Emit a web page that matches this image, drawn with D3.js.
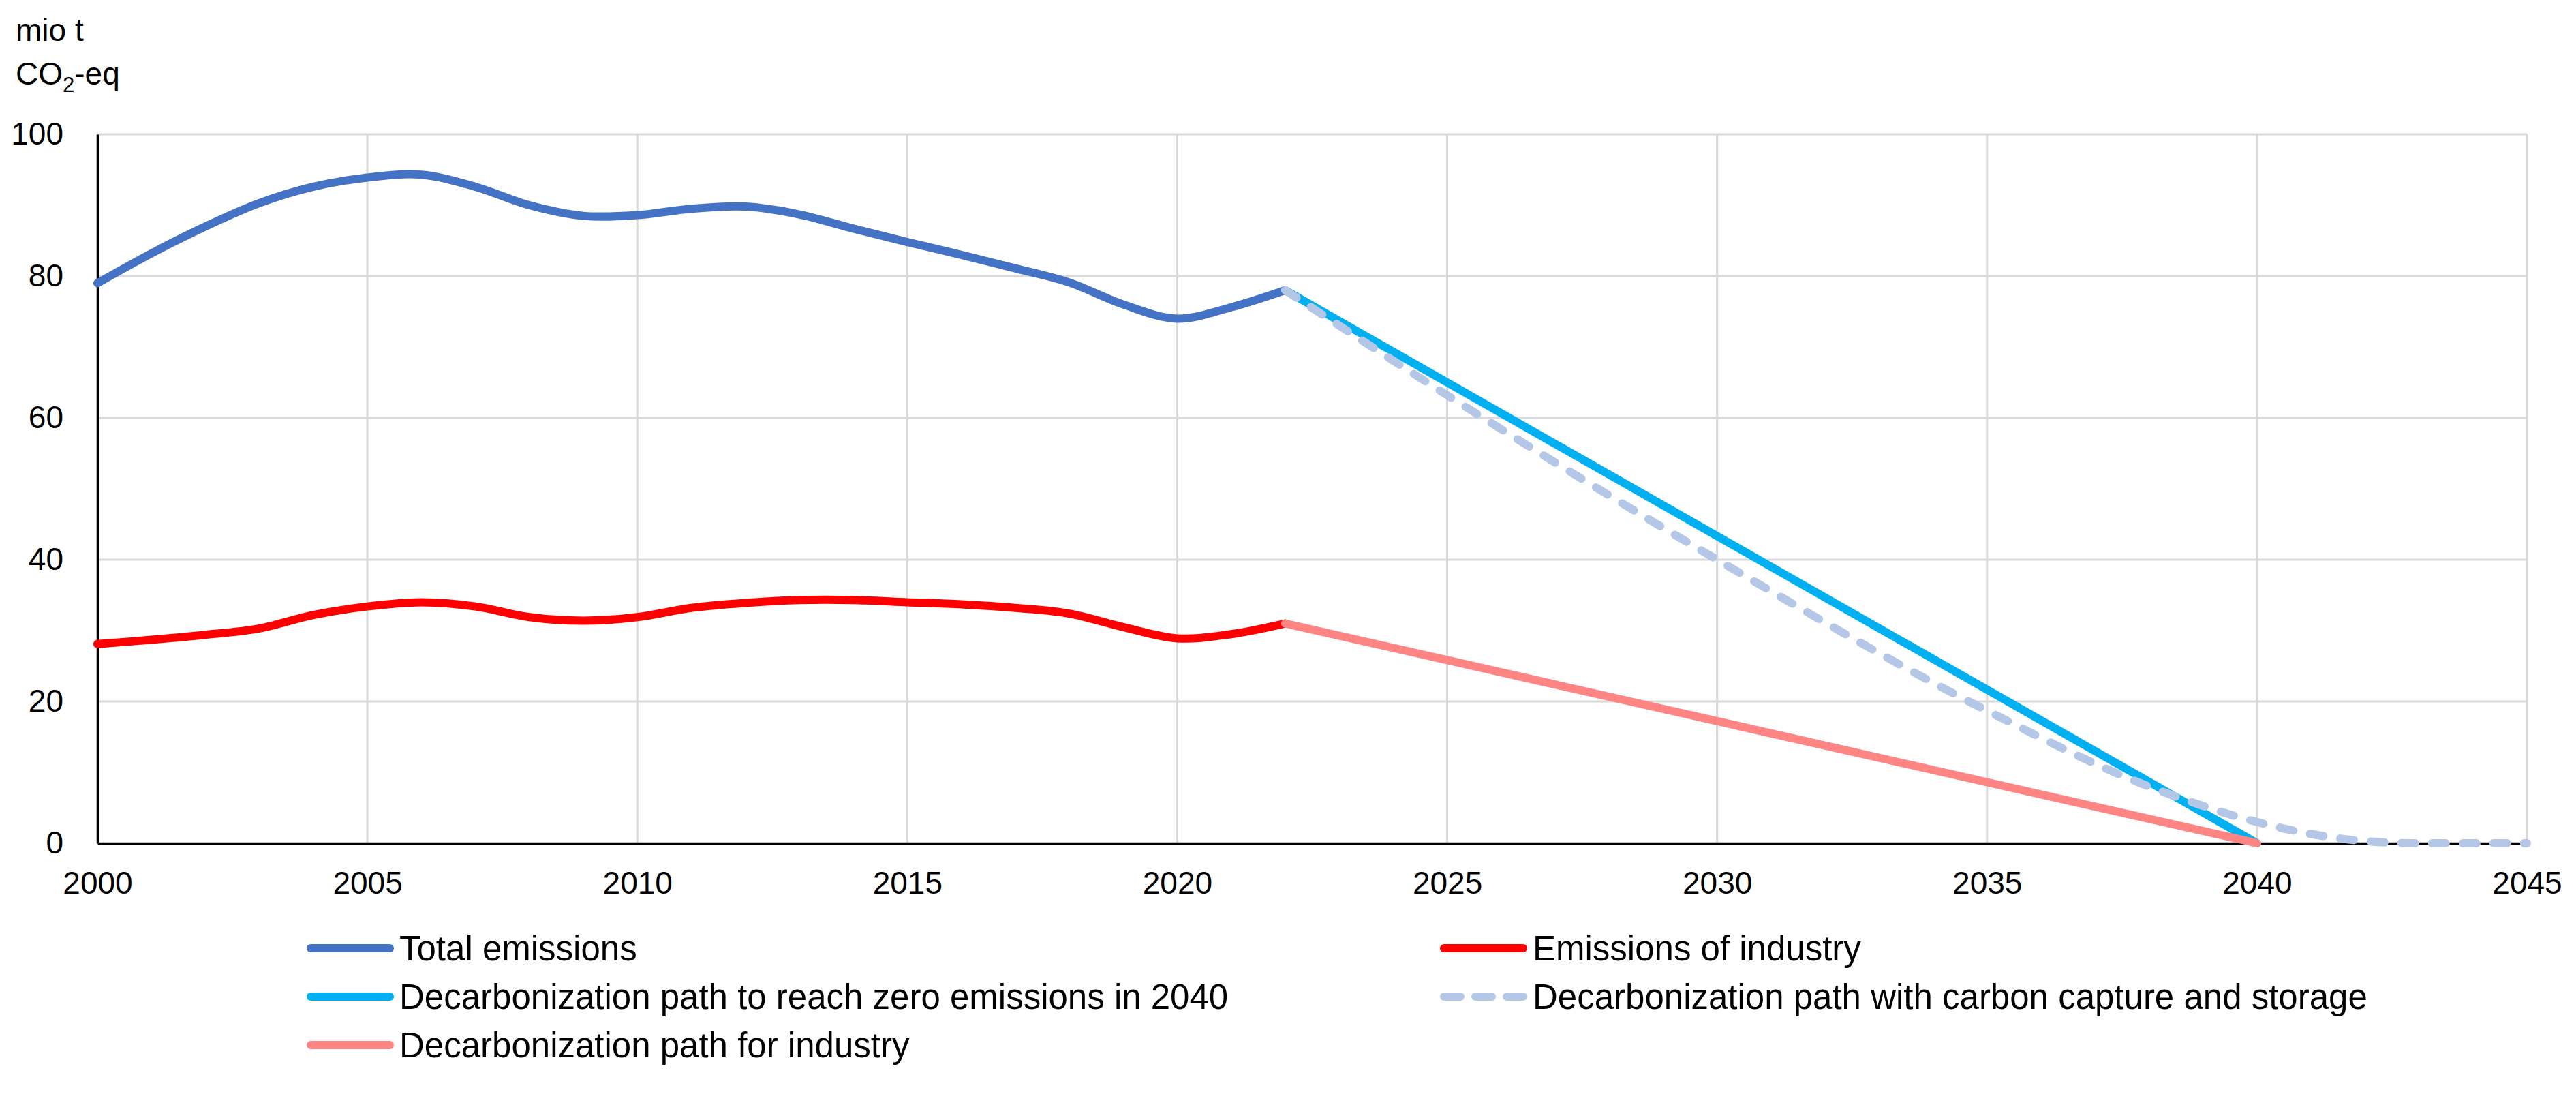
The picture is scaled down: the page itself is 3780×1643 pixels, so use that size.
<!DOCTYPE html>
<html>
<head>
<meta charset="utf-8">
<script src="https://cdn.jsdelivr.net/npm/d3@7"></script>
<style>
	body { margin: 0; background: #fff; }
	text { font-family: "Liberation Sans", Arial, sans-serif; fill: #000; }
</style>
</head>
<body>
<div id="chart"></div>
<script>
///////////////////////////////////////////////////////////////////////////
///////////////////////////// The data ////////////////////////////////////
///////////////////////////////////////////////////////////////////////////

var years = d3.range(2000, 2023);

//Total emissions, mio t CO2-eq
var totalEmissions = [79.0, 83.2, 87.0, 90.3, 92.6, 93.9, 94.3, 92.6, 90.0, 88.5, 88.6, 89.5,
	89.8, 88.7, 86.7, 84.8, 83.0, 81.1, 79.1, 76.0, 74.0, 75.6, 78.0];

//Emissions of industry
var industryEmissions = [28.1, 28.7, 29.4, 30.3, 32.2, 33.4, 34.0, 33.4, 31.9, 31.4, 31.9, 33.2,
	33.9, 34.3, 34.3, 34.0, 33.7, 33.2, 32.4, 30.5, 28.9, 29.5, 31.0];

//Decarbonization paths
var zeroPathYears = [2022, 2040],
	zeroPath = [78, 0];
var ccsYears = [2022, 2025, 2030, 2035, 2038, 2040, 2041, 2042, 2043, 2045],
	ccsPath = [78, 63.2, 40.0, 18.7, 8.0, 3.0, 1.3, 0.3, 0, 0];
var industryPathYears = [2022, 2040],
	industryPath = [31, 0];

var xTicks = d3.range(2000, 2046, 5),
	yTicks = [0, 20, 40, 60, 80, 100];

var legendItems = [
	{name: "Total emissions", color: "#4472C4", dash: null},
	{name: "Emissions of industry", color: "#FF0000", dash: null},
	{name: "Decarbonization path to reach zero emissions in 2040", color: "#00B0F0", dash: null},
	{name: "Decarbonization path with carbon capture and storage", color: "#B4C7E7", dash: "20,25"},
	{name: "Decarbonization path for industry", color: "#FF8585", dash: null}
];

///////////////////////////////////////////////////////////////////////////
////////////////////////// Set up the SVG /////////////////////////////////
///////////////////////////////////////////////////////////////////////////

var width = 3780,
	height = 1643,
	plot = {left: 143, right: 3708, top: 197, bottom: 1237},
	lineWidth = 12;

var svg = d3.select("#chart").append("svg")
	.attr("width", width)
	.attr("height", height);

var x = d3.scaleLinear().domain([2000, 2045]).range([plot.left, plot.right]);
var y = d3.scaleLinear().domain([0, 100]).range([plot.bottom, plot.top]);

//Gridlines
svg.append("g")
	.attr("class", "grid")
	.selectAll("line.h")
	.data(yTicks.filter(function(d) { return d > 0; }))
	.enter().append("line")
	.attr("x1", plot.left).attr("x2", plot.right)
	.attr("y1", function(d) { return y(d); })
	.attr("y2", function(d) { return y(d); })
	.style("stroke", "#d9d9d9")
	.style("stroke-width", 3);

svg.append("g")
	.attr("class", "grid")
	.selectAll("line.v")
	.data(xTicks.filter(function(d) { return d > 2000; }))
	.enter().append("line")
	.attr("y1", plot.top).attr("y2", plot.bottom)
	.attr("x1", function(d) { return x(d); })
	.attr("x2", function(d) { return x(d); })
	.style("stroke", "#d9d9d9")
	.style("stroke-width", 3);

//Axes
var xAxis = svg.append("g")
	.attr("transform", "translate(0," + plot.bottom + ")")
	.call(d3.axisBottom(x).tickValues(xTicks).tickFormat(d3.format("d")).tickSize(0).tickPadding(58));
var yAxis = svg.append("g")
	.attr("transform", "translate(" + plot.left + ",0)")
	.call(d3.axisLeft(y).tickValues(yTicks).tickSize(0).tickPadding(50));

[xAxis, yAxis].forEach(function(ax) {
	ax.select(".domain").style("stroke", "#000").style("stroke-width", 3.5);
	ax.selectAll("text").style("font-size", "46px").attr("font-family", null);
});
xAxis.selectAll("text").attr("dy", "0.35em");

///////////////////////////////////////////////////////////////////////////
//////////////////////////// Draw the lines ///////////////////////////////
///////////////////////////////////////////////////////////////////////////

var smoothLine = d3.line()
	.x(function(d) { return x(d[0]); })
	.y(function(d) { return y(d[1]); })
	.curve(d3.curveCardinal.tension(0));
var straightLine = d3.line()
	.x(function(d) { return x(d[0]); })
	.y(function(d) { return y(d[1]); });
var ccsLine = d3.line()
	.x(function(d) { return x(d[0]); })
	.y(function(d) { return y(d[1]); })
	.curve(d3.curveMonotoneX);

function drawLine(gen, xs, vs, item) {
	svg.append("path")
		.datum(d3.zip(xs, vs))
		.attr("d", gen)
		.style("fill", "none")
		.style("stroke", item.color)
		.style("stroke-width", lineWidth)
		.style("stroke-linecap", "round")
		.style("stroke-linejoin", "round")
		.style("stroke-dasharray", item.dash);
}

drawLine(smoothLine, years, totalEmissions, legendItems[0]);
drawLine(smoothLine, years, industryEmissions, legendItems[1]);
drawLine(straightLine, zeroPathYears, zeroPath, legendItems[2]);
drawLine(ccsLine, ccsYears, ccsPath, legendItems[3]);
drawLine(straightLine, industryPathYears, industryPath, legendItems[4]);

///////////////////////////////////////////////////////////////////////////
////////////////////////// Unit and legend ////////////////////////////////
///////////////////////////////////////////////////////////////////////////

svg.append("text")
	.attr("x", 23).attr("y", 60)
	.style("font-size", "46px")
	.text("mio t");

var unit = svg.append("text")
	.attr("x", 23).attr("y", 124)
	.style("font-size", "46px");
unit.append("tspan").text("CO");
unit.append("tspan").attr("dy", 11).style("font-size", "31px").text("2");
unit.append("tspan").attr("dy", -11).text("-eq");

//Legend positions: two columns, three rows
var legendCols = [450, 2113],
	legendRows = [1391, 1462, 1533],
	legendLineLength = 128;

var legend = svg.selectAll(".legendItem")
	.data(legendItems)
	.enter().append("g")
	.attr("class", "legendItem")
	.attr("transform", function(d, i) {
		return "translate(" + legendCols[i % 2] + "," + legendRows[Math.floor(i / 2)] + ")";
	});

legend.append("line")
	.attr("x1", lineWidth / 2).attr("x2", legendLineLength - lineWidth / 2)
	.attr("y1", 0).attr("y2", 0)
	.style("stroke", function(d) { return d.color; })
	.style("stroke-width", lineWidth)
	.style("stroke-linecap", "round")
	.style("stroke-dasharray", function(d) { return d.dash ? "24,22" : null; });

legend.append("text")
	.attr("x", legendLineLength + 8)
	.attr("y", 0)
	.attr("dy", "0.35em")
	.style("font-size", "51px")
	.text(function(d) { return d.name; });
</script>
</body>
</html>
